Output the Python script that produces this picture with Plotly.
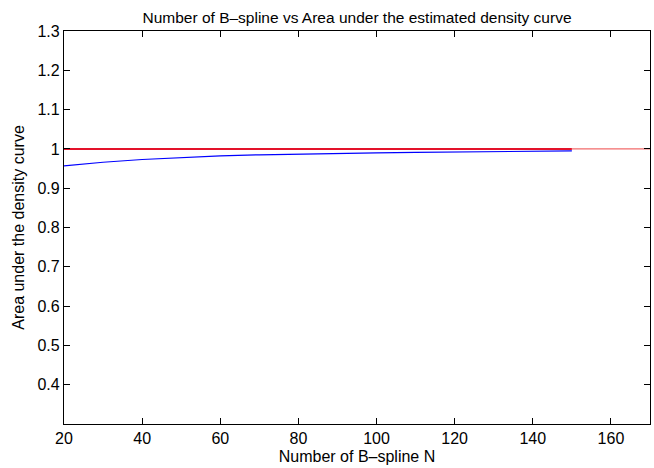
import plotly.graph_objects as go

# Number of B-spline basis functions and the resulting area under the density estimate
n_splines = [20, 25, 30, 40, 50, 60, 70, 80, 90, 100, 110, 120, 130, 140, 150]
area = [0.957, 0.962, 0.966, 0.973, 0.978, 0.982, 0.985, 0.987, 0.989, 0.990,
        0.991, 0.992, 0.993, 0.994, 0.995]

# Reference level: a true density integrates to 1
ref_x = [20, 150]
ref_ext_x = [150, 170]
ref_level = 1.0

FONT = "Liberation Sans, Arial, Helvetica, sans-serif"

fig = go.Figure()
fig.add_trace(go.Scatter(x=ref_ext_x, y=[ref_level, ref_level], mode="lines",
                         line=dict(color="#f26b6b", width=1.2), hoverinfo="skip"))
fig.add_trace(go.Scatter(x=ref_x, y=[ref_level, ref_level], mode="lines",
                         line=dict(color="#e3122a", width=2)))
fig.add_trace(go.Scatter(x=n_splines, y=area, mode="lines",
                         line=dict(color="#0000ff", width=1.2)))

axis_common = dict(
    showgrid=False, zeroline=False, showline=True, linecolor="black", linewidth=1.2,
    mirror="ticks", ticks="inside", ticklen=6, tickwidth=1.2, tickcolor="black",
    tickfont=dict(family=FONT, size=16, color="black"),
)

fig.update_layout(
    width=654, height=468,
    margin=dict(l=64, r=4, t=31, b=44),
    paper_bgcolor="white", plot_bgcolor="white",
    showlegend=False,
    title=dict(text="Number of B\u2013spline vs Area under the estimated density curve",
               xref="paper", x=0.5, xanchor="center",
               yref="container", y=1 - 18 / 468, yanchor="middle",
               font=dict(family=FONT, size=15.5, color="black")),
    xaxis=dict(range=[20, 170], tickvals=[20, 40, 60, 80, 100, 120, 140, 160],
               title=dict(text="Number of B\u2013spline N", standoff=4,
                          font=dict(family=FONT, size=16, color="black")),
               **axis_common),
    yaxis=dict(range=[0.3, 1.3],
               tickvals=[0.4, 0.5, 0.6, 0.7, 0.8, 0.9, 1.0, 1.1, 1.2, 1.3],
               ticktext=["0.4", "0.5", "0.6", "0.7", "0.8", "0.9", "1", "1.1", "1.2", "1.3"],
               title=dict(text="Area under the density curve", standoff=8,
                          font=dict(family=FONT, size=16, color="black")),
               **axis_common),
)

fig.write_html("out.html")
